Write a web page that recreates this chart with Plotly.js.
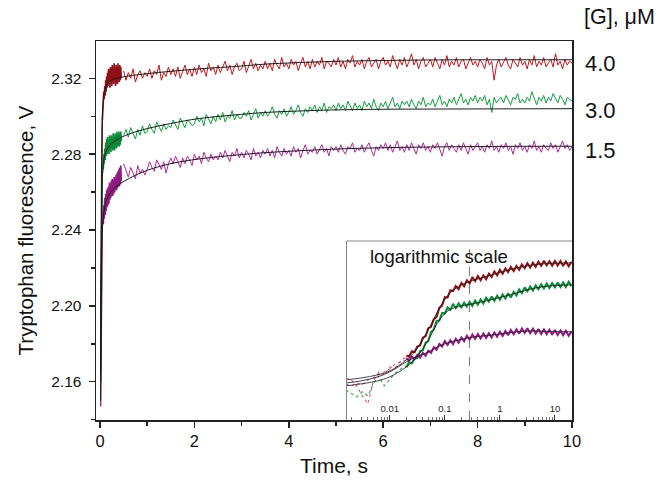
<!DOCTYPE html>
<html>
<head>
<meta charset="utf-8">
<script src="https://cdn.plot.ly/plotly-3.0.1.min.js"></script>
<style>html,body{margin:0;padding:0;background:#fff;}#chart{width:664px;height:484px;}</style>
</head>
<body>
<div id="chart"></div>
<script>
// ---------- main panel data (time in s, fluorescence in V) ----------
const concLabels = ['4.0', '3.0', '1.5'];
const concLevels = [2.3276, 2.3028, 2.2817];

const riseT = [0.015, 0.02, 0.025, 0.03, 0.035, 0.04, 0.045, 0.05];
const redRise   = [2.170, 2.195, 2.235, 2.262, 2.280, 2.290, 2.295, 2.298];
const greenRise = [2.160, 2.180, 2.210, 2.235, 2.250, 2.260, 2.266, 2.270];
const magRise   = [2.147, 2.160, 2.190, 2.215, 2.228, 2.236, 2.241, 2.244];

// dense early sampling: 0.05 s .. 0.45 s every 0.01 s
const denseT0 = 0.05, denseDt = 0.01;
const redDense = [2.298,2.307,2.304,2.313,2.309,2.316,2.311,2.319,2.313,2.321,2.315,2.323,2.316,2.325,2.317,2.324,2.315,2.326,2.318,2.325,2.316,2.327,2.318,2.324,2.317,2.328,2.319,2.325,2.316,2.327,2.318,2.326,2.317,2.328,2.319,2.325,2.318,2.327,2.319,2.326,2.320];
const greenDense = [2.270,2.276,2.272,2.280,2.275,2.283,2.277,2.286,2.279,2.288,2.280,2.289,2.281,2.287,2.280,2.290,2.282,2.288,2.281,2.290,2.283,2.289,2.282,2.291,2.283,2.289,2.282,2.291,2.284,2.290,2.283,2.292,2.284,2.290,2.285,2.292,2.284,2.291,2.285,2.292,2.287];
const magDense = [2.244,2.250,2.243,2.253,2.246,2.257,2.248,2.259,2.250,2.261,2.252,2.262,2.253,2.263,2.254,2.265,2.256,2.264,2.257,2.266,2.258,2.267,2.258,2.266,2.259,2.268,2.260,2.267,2.261,2.269,2.261,2.270,2.262,2.271,2.263,2.272,2.263,2.273,2.264,2.274,2.266];

// main sampling: 0.5 s .. 10 s every 0.05 s
const mainT0 = 0.5, mainDt = 0.05;
const redMain = [
2.324,2.319,2.323,2.320,2.325,2.318,2.322,2.324,2.320,2.323,
2.321,2.325,2.320,2.324,2.322,2.327,2.319,2.323,2.321,2.326,
2.322,2.325,2.321,2.326,2.320,2.324,2.327,2.322,2.325,2.321,
2.326,2.322,2.327,2.323,2.325,2.321,2.328,2.324,2.326,2.322,
2.327,2.323,2.326,2.329,2.324,2.327,2.322,2.326,2.328,2.324,
2.325,2.329,2.323,2.327,2.330,2.325,2.328,2.324,2.327,2.325,
2.329,2.325,2.328,2.324,2.330,2.327,2.325,2.331,2.326,2.328,
2.325,2.330,2.327,2.329,2.324,2.328,2.331,2.326,2.329,2.325,
2.330,2.326,2.329,2.327,2.331,2.325,2.329,2.328,2.326,2.330,
2.327,2.331,2.326,2.329,2.325,2.330,2.328,2.332,2.326,2.329,
2.327,2.330,2.325,2.329,2.331,2.326,2.328,2.330,2.325,2.329,
2.331,2.327,2.329,2.326,2.332,2.328,2.325,2.330,2.327,2.331,
2.326,2.329,2.333,2.327,2.330,2.325,2.329,2.331,2.326,2.328,
2.330,2.326,2.331,2.328,2.325,2.330,2.327,2.332,2.326,2.329,
2.327,2.331,2.326,2.329,2.330,2.325,2.328,2.331,2.327,2.329,
2.326,2.330,2.328,2.325,2.331,2.327,2.329,2.319,2.327,2.330,
2.326,2.329,2.331,2.327,2.325,2.330,2.328,2.326,2.331,2.327,
2.329,2.325,2.330,2.327,2.332,2.326,2.329,2.327,2.331,2.326,
2.328,2.330,2.326,2.333,2.327,2.329,2.325,2.330,2.327,2.329,
2.328];
const greenMain = [
2.290,2.293,2.289,2.294,2.291,2.288,2.293,2.290,2.295,2.291,
2.292,2.296,2.293,2.291,2.297,2.294,2.292,2.296,2.293,2.295,
2.294,2.298,2.295,2.293,2.299,2.296,2.294,2.298,2.297,2.295,
2.296,2.300,2.297,2.299,2.295,2.301,2.298,2.296,2.300,2.297,
2.301,2.298,2.302,2.297,2.300,2.299,2.303,2.298,2.301,2.299,
2.299,2.302,2.300,2.303,2.298,2.301,2.304,2.299,2.302,2.300,
2.303,2.300,2.302,2.305,2.301,2.299,2.303,2.301,2.304,2.300,
2.302,2.305,2.301,2.303,2.306,2.302,2.300,2.304,2.302,2.305,
2.303,2.306,2.302,2.305,2.303,2.307,2.302,2.305,2.304,2.306,
2.303,2.307,2.304,2.306,2.303,2.308,2.305,2.303,2.307,2.304,
2.306,2.303,2.308,2.305,2.307,2.304,2.309,2.305,2.303,2.307,
2.305,2.308,2.304,2.307,2.310,2.305,2.307,2.304,2.308,2.306,
2.308,2.305,2.309,2.306,2.304,2.308,2.306,2.310,2.305,2.307,
2.306,2.309,2.305,2.308,2.311,2.306,2.308,2.305,2.309,2.307,
2.310,2.306,2.309,2.312,2.307,2.309,2.306,2.310,2.308,2.311,
2.307,2.310,2.308,2.311,2.306,2.309,2.302,2.310,2.307,2.309,
2.310,2.307,2.311,2.308,2.306,2.310,2.309,2.312,2.307,2.309,
2.307,2.310,2.308,2.313,2.309,2.306,2.310,2.308,2.311,2.307,
2.310,2.308,2.312,2.309,2.307,2.311,2.309,2.306,2.310,2.309,
2.308];
const magMain = [
2.275,2.271,2.268,2.273,2.270,2.267,2.274,2.270,2.272,2.269,
2.272,2.276,2.273,2.271,2.277,2.274,2.272,2.276,2.270,2.275,
2.278,2.275,2.279,2.276,2.273,2.278,2.275,2.279,2.277,2.274,
2.280,2.277,2.279,2.275,2.281,2.278,2.276,2.280,2.277,2.279,
2.277,2.281,2.278,2.282,2.279,2.276,2.281,2.279,2.283,2.278,
2.281,2.278,2.282,2.280,2.277,2.283,2.279,2.281,2.278,2.282,
2.280,2.283,2.279,2.282,2.278,2.284,2.281,2.279,2.283,2.280,
2.282,2.279,2.284,2.281,2.283,2.278,2.282,2.285,2.280,2.282,
2.281,2.284,2.280,2.283,2.285,2.281,2.283,2.279,2.284,2.282,
2.284,2.281,2.285,2.282,2.280,2.284,2.283,2.286,2.281,2.283,
2.282,2.285,2.281,2.284,2.286,2.282,2.279,2.284,2.282,2.285,
2.283,2.286,2.282,2.285,2.281,2.284,2.287,2.282,2.284,2.281,
2.285,2.282,2.286,2.283,2.280,2.285,2.283,2.286,2.282,2.284,
2.281,2.285,2.283,2.286,2.282,2.279,2.284,2.286,2.282,2.285,
2.283,2.281,2.285,2.282,2.286,2.283,2.280,2.285,2.282,2.284,
2.286,2.282,2.284,2.281,2.285,2.283,2.287,2.282,2.284,2.281,
2.285,2.283,2.286,2.282,2.284,2.280,2.285,2.283,2.286,2.282,
2.284,2.281,2.285,2.283,2.287,2.282,2.284,2.281,2.285,2.283,
2.282,2.286,2.283,2.285,2.281,2.284,2.287,2.283,2.285,2.282,
2.284];

// fitted curves (main panel)
const fitT = [0.012,0.018,0.025,0.035,0.05,0.08,0.12,0.2,0.35,0.6,1,1.5,2.1,3,3.5,4.9,6,7,8.5,10];
const redFit   = [2.165,2.200,2.245,2.280,2.300,2.311,2.315,2.3185,2.3200,2.3212,2.3225,2.3237,2.3250,2.3265,2.3275,2.3289,2.3294,2.3297,2.3298,2.3298];
const greenFit = [2.160,2.190,2.225,2.252,2.268,2.277,2.281,2.2845,2.2875,2.2905,2.2935,2.2962,2.2988,2.3010,2.3020,2.3033,2.3037,2.3038,2.3039,2.3040];
const magFit   = [2.150,2.175,2.205,2.228,2.240,2.249,2.2545,2.259,2.263,2.267,2.2715,2.2750,2.2775,2.2798,2.2808,2.2826,2.2834,2.2838,2.2841,2.2842];

// ---------- inset (log time) ----------
const insetTLeft = [0.0016,0.002,0.0025,0.00316,0.004,0.005,0.0063,0.0079,0.01,0.0126,0.0158,0.02];
const redInLeft   = [2.2550,2.2538,2.2499,2.2435,2.2384,2.2525,2.2589,2.2570,2.2621,2.2615,2.2660,2.2685];
const greenInLeft = [2.2473,2.2448,2.2428,2.2461,2.2435,2.2512,2.2563,2.2499,2.2544,2.2582,2.2608,2.2628];
const magInLeft   = [2.2512,2.2499,2.2518,2.2506,2.2538,2.2550,2.2576,2.2589,2.2608,2.2641,2.2653,2.2666];

const insetT = [0.02,0.0224,0.0251,0.0282,0.0316,0.0355,0.0398,0.0447,0.0501,0.0562,0.0631,0.0708,0.0794,0.0891,
0.1,0.112,0.126,0.141,0.158,0.178,0.2,0.224,0.251,0.282,0.316,0.355,0.398,0.447,0.501,0.562,0.631,0.708,0.794,0.891,
1,1.12,1.26,1.41,1.58,1.78,2,2.24,2.51,2.82,3.16,3.55,3.98,4.47,5.01,5.62,6.31,7.08,7.94,8.91,
10,11.2,12.6,14.1,15.8,17.8,20];
const redIn = [2.2693,2.2688,2.2722,2.2715,2.2752,2.2759,2.2809,2.2818,2.2870,2.2879,2.2928,2.2942,2.3000,2.3015,
2.3069,2.3066,2.3114,2.3109,2.3141,2.3121,2.3161,2.3139,2.3177,2.3157,2.3198,2.3172,2.3205,2.3177,2.3209,2.3184,2.3221,2.3198,2.3235,2.3210,
2.3245,2.3219,2.3254,2.3230,2.3264,2.3237,2.3270,2.3245,2.3279,2.3255,2.3287,2.3259,2.3291,2.3264,2.3297,2.3271,2.3303,2.3273,2.3301,2.3271,
2.3301,2.3272,2.3301,2.3269,2.3298,2.3267,2.3297];
const greenIn = [2.2619,2.2652,2.2644,2.2676,2.2676,2.2723,2.2727,2.2777,2.2787,2.2847,2.2862,2.2917,2.2919,2.2968,
2.2964,2.3003,2.2988,2.3026,2.2999,2.3029,2.3003,2.3034,2.3009,2.3039,2.3013,2.3048,2.3021,2.3055,2.3029,2.3065,2.3040,2.3074,2.3046,2.3079,
2.3052,2.3086,2.3060,2.3094,2.3067,2.3103,2.3080,2.3118,2.3095,2.3132,2.3106,2.3138,2.3111,2.3145,2.3120,2.3153,2.3125,2.3157,2.3128,2.3160,
2.3132,2.3164,2.3134,2.3164,2.3135,2.3168,2.3140];
const magIn = [2.2676,2.2661,2.2689,2.2671,2.2699,2.2681,2.2711,2.2692,2.2725,2.2711,2.2748,2.2731,2.2769,2.2752,
2.2788,2.2762,2.2793,2.2767,2.2802,2.2776,2.2811,2.2786,2.2821,2.2796,2.2829,2.2801,2.2833,2.2804,2.2836,2.2807,2.2838,2.2810,2.2842,2.2814,
2.2847,2.2819,2.2852,2.2824,2.2858,2.2830,2.2863,2.2835,2.2868,2.2840,2.2870,2.2838,2.2867,2.2836,2.2865,2.2833,2.2862,2.2831,2.2860,2.2828,
2.2858,2.2826,2.2855,2.2824,2.2853,2.2821,2.2850];

const insetFitT = [0.0016,0.003,0.006,0.01,0.02,0.03,0.05,0.08,0.12,0.2,0.35,0.6,1,2,4,8,20];
const redInFit   = [2.2538,2.2550,2.2570,2.2595,2.2666,2.2730,2.2859,2.3000,2.3090,2.3148,2.3180,2.3205,2.3228,2.3257,2.3276,2.3286,2.3289];
const greenInFit = [2.2499,2.2512,2.2531,2.2557,2.2621,2.2679,2.2794,2.2923,2.2987,2.3013,2.3029,2.3048,2.3067,2.3096,2.3125,2.3141,2.3148];
const magInFit   = [2.2518,2.2531,2.2557,2.2589,2.2653,2.2685,2.2717,2.2756,2.2778,2.2798,2.2814,2.2823,2.2833,2.2846,2.2852,2.2849,2.2846];

const markerTime = 0.28;          // dashed reference line in inset
const insetYRange = [2.228, 2.343];

// ---------- styling ----------
const RED = '#c4161c', RED_D = '#8e0f14';
const GRN = '#12a040', GRN_D = '#0a8a38';
const MAG = '#b0289c', MAG_D = '#8f1c80';
const FITC = '#1a1a1a';
const FONT = 'Liberation Sans, Arial, Helvetica, sans-serif';

const traces = [];
function line(x, y, color, width, extra) {
  return Object.assign({type:'scatter', mode:'lines', x:x, y:y, line:{color:color, width:width}, hoverinfo:'skip'}, extra || {});
}
function sampled(y, t0, dt, color, width, extra) {
  return Object.assign({type:'scatter', mode:'lines', x0:t0, dx:dt, y:y, line:{color:color, width:width}, hoverinfo:'skip'}, extra || {});
}

// main panel
traces.push(line(riseT, redRise, RED_D, 1.3));
traces.push(line(riseT, greenRise, GRN_D, 1.3));
traces.push(line(riseT, magRise, MAG_D, 1.3));
traces.push(sampled(redMain, mainT0, mainDt, RED, 1));
traces.push(sampled(greenMain, mainT0, mainDt, GRN, 1));
traces.push(sampled(magMain, mainT0, mainDt, MAG, 1));
traces.push(sampled(redDense, denseT0, denseDt, RED_D, 1.6));
traces.push(sampled(greenDense, denseT0, denseDt, GRN_D, 1.6));
traces.push(sampled(magDense, denseT0, denseDt, MAG_D, 1.6));
traces.push(line(fitT, redFit, FITC, 1, {line:{color:FITC, width:1, shape:'spline'}}));
traces.push(line(fitT, greenFit, FITC, 1, {line:{color:FITC, width:1, shape:'spline'}}));
traces.push(line(fitT, magFit, FITC, 1, {line:{color:FITC, width:1, shape:'spline'}}));

// inset
const ins = {xaxis:'x2', yaxis:'y2'};
traces.push(line([markerTime, markerTime], insetYRange, '#777', 1, Object.assign({line:{color:'#777', width:1, dash:'dash'}}, ins)));
traces.push(line(insetTLeft, redInLeft, '#d9606a', 1, Object.assign({line:{color:'#d9606a', width:1.1, dash:'dot'}}, ins)));
traces.push(line(insetTLeft, greenInLeft, '#30a858', 1, Object.assign({line:{color:'#30a858', width:1.1, dash:'dot'}}, ins)));
traces.push(line(insetTLeft, magInLeft, '#c060b0', 1, Object.assign({line:{color:'#c060b0', width:1.1, dash:'dot'}}, ins)));
traces.push(line(insetT, redIn, RED_D, 2, ins));
traces.push(line(insetT, greenIn, GRN_D, 2, ins));
traces.push(line(insetT, magIn, MAG_D, 2, ins));
traces.push(line(insetFitT, redInFit, FITC, 0.8, Object.assign({line:{color:FITC, width:0.8, shape:'spline'}}, ins)));
traces.push(line(insetFitT, greenInFit, FITC, 0.8, Object.assign({line:{color:FITC, width:0.8, shape:'spline'}}, ins)));
traces.push(line(insetFitT, magInFit, FITC, 0.8, Object.assign({line:{color:FITC, width:0.8, shape:'spline'}}, ins)));

const insetX0 = 0.527, insetY1 = 0.4723;

const annotations = [
  {xref:'paper', yref:'paper', x:1.1, y:1.063, text:'[G], μM', showarrow:false, xanchor:'center', yanchor:'middle', font:{size:21.5, family:FONT, color:'#111'}},
  {xref:'paper', yref:'paper', x:0.572, y:0.4327, text:'logarithmic scale', showarrow:false, xanchor:'left', yanchor:'middle', font:{size:18.5, family:FONT, color:'#111'}}
];
concLabels.forEach((s, i) => annotations.push({xref:'paper', yref:'y', x:1.059, y:concLevels[i], text:s, showarrow:false, xanchor:'center', yanchor:'middle', font:{size:22, family:FONT, color:'#111'}}));

const layout = {
  width:664, height:484,
  margin:{l:96, r:92, t:41, b:64},
  paper_bgcolor:'#ffffff', plot_bgcolor:'#ffffff',
  showlegend:false,
  font:{family:FONT, color:'#111', size:15},
  xaxis:{
    domain:[0,1], anchor:'y',
    range:[-0.085, 10], tick0:0, dtick:2, ticks:'outside', ticklen:6, tickwidth:1.5, tickcolor:'#222',
    showline:true, linewidth:1.5, linecolor:'#222', mirror:true, showgrid:false, zeroline:false,
    tickfont:{size:16.5, family:FONT, color:'#111'},
    minor:{dtick:1, tick0:0, ticks:'outside', ticklen:4, tickwidth:1.5, tickcolor:'#222', showgrid:false},
    title:{text:'Time, s', font:{size:21, family:FONT, color:'#111'}, standoff:9}
  },
  yaxis:{
    domain:[0,1], anchor:'x',
    range:[2.1398, 2.3397], tick0:2.16, dtick:0.04, tickformat:'.2f', ticks:'outside', ticklen:6, tickwidth:1.5, tickcolor:'#222',
    showline:true, linewidth:1.5, linecolor:'#222', mirror:true, showgrid:false, zeroline:false,
    tickfont:{size:15.5, family:FONT, color:'#111'},
    ticklabelstandoff:4,
    minor:{dtick:0.02, tick0:2.14, ticks:'outside', ticklen:4, tickwidth:1.5, tickcolor:'#222', showgrid:false},
    title:{text:'Tryptophan fluorescence, V', font:{size:20.5, family:FONT, color:'#111'}, standoff:12}
  },
  xaxis2:{
    type:'log', domain:[insetX0, 1], anchor:'y2',
    range:[-2.78, 1.31], dtick:1, ticks:'inside', ticklen:5, tickwidth:1, tickcolor:'#333',
    ticklabelposition:'inside', tickfont:{size:9.5, family:FONT, color:'#222'},
    showline:false, showgrid:false, zeroline:false,
    minor:{ticks:'inside', ticklen:3, tickwidth:0.8, tickcolor:'#555', showgrid:false}
  },
  yaxis2:{
    domain:[0, insetY1], anchor:'x2', range:insetYRange,
    showticklabels:false, ticks:'', showline:true, linecolor:'#888', linewidth:1, mirror:false,
    showgrid:false, zeroline:false
  },
  shapes:[
    {type:'line', xref:'paper', yref:'paper', x0:insetX0, x1:1, y0:insetY1, y1:insetY1, line:{color:'#888', width:1}}
  ],
  annotations:annotations
};

Plotly.newPlot('chart', traces, layout, {staticPlot:true, displayModeBar:false});
</script>
</body>
</html>
